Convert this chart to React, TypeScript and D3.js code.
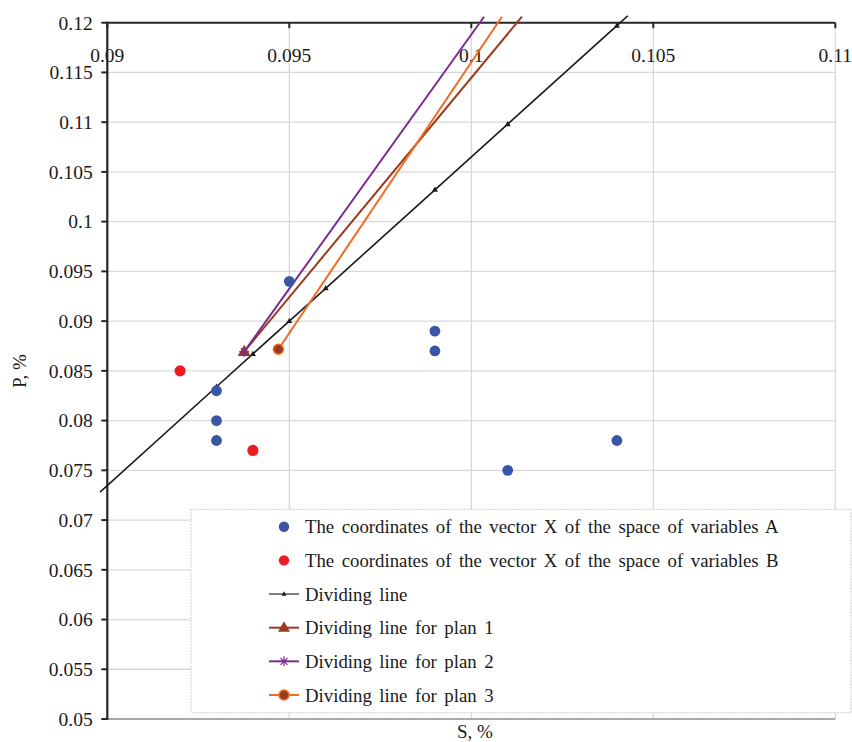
import React from "react";
import * as d3 from "d3";

const xTicks = [0.09, 0.095, 0.1, 0.105, 0.11];
const xTickLabels = ["0.09", "0.095", "0.1", "0.105", "0.11"];
const yTicks = [0.05, 0.055, 0.06, 0.065, 0.07, 0.075, 0.08, 0.085, 0.09, 0.095, 0.1, 0.105, 0.11, 0.115, 0.12];
const yTickLabels = ["0.05", "0.055", "0.06", "0.065", "0.07", "0.075", "0.08", "0.085", "0.09", "0.095", "0.1", "0.105", "0.11", "0.115", "0.12"];

const seriesA_S = [0.093, 0.093, 0.093, 0.095, 0.099, 0.099, 0.101, 0.104];
const seriesA_P = [0.083, 0.08, 0.078, 0.094, 0.089, 0.087, 0.075, 0.078];

const seriesB_S = [0.092, 0.094];
const seriesB_P = [0.085, 0.077];

const dividingS = [0.0898, 0.093, 0.094, 0.095, 0.096, 0.099, 0.101, 0.104, 0.1043];
const dividingP = [0.0728, 0.0834, 0.0867, 0.09, 0.0933, 0.1032, 0.1098, 0.1197, 0.1207];
const dividingMarked = [false, true, true, true, true, true, true, true, false];

const plan1S = [0.09376, 0.10139];
const plan1P = [0.08693, 0.1206];
const plan2S = [0.09376, 0.10035];
const plan2P = [0.08693, 0.1206];
const plan3S = [0.0947, 0.10084];
const plan3P = [0.08717, 0.1206];

const legendLabels = [
  "The coordinates of the vector X of the space of variables A",
  "The coordinates of the vector X of the space of variables B",
  "Dividing line",
  "Dividing line for plan 1",
  "Dividing line for plan 2",
  "Dividing line for plan 3",
];

const BLUE = "#3a55a6";
const RED = "#ec1c24";
const BLACK = "#1a1a1a";
const BROWN = "#9a3a1c";
const PURPLE = "#7b2d8e";
const ORANGE = "#f26a21";
const FONT = "'Liberation Serif', 'Times New Roman', serif";

const x = d3.scaleLinear().domain([0.09, 0.11]).range([107.3, 835.3]);
const y = d3.scaleLinear().domain([0.05, 0.12]).range([719, 22.7]);

const line = d3
  .line<[number, number]>()
  .x((d) => x(d[0]))
  .y((d) => y(d[1]));

const zip = (a: number[], b: number[]) => a.map((v, i) => [v, b[i]] as [number, number]);

const tri = (cx: number, cy: number, s: number) => {
  const h = s * 0.87;
  return `M${cx},${cy - h * 0.62}L${cx + s / 2},${cy + h * 0.38}L${cx - s / 2},${cy + h * 0.38}Z`;
};

function Asterisk({ cx, cy, r, color }: { cx: number; cy: number; r: number; color: string }) {
  return (
    <g stroke={color} strokeWidth={1.2}>
      <line x1={cx - r} y1={cy} x2={cx + r} y2={cy} />
      <line x1={cx} y1={cy - r} x2={cx} y2={cy + r} />
      <line x1={cx - r * 0.7} y1={cy - r * 0.7} x2={cx + r * 0.7} y2={cy + r * 0.7} />
      <line x1={cx - r * 0.7} y1={cy + r * 0.7} x2={cx + r * 0.7} y2={cy - r * 0.7} />
    </g>
  );
}

export default function App() {
  const divPts = zip(dividingS, dividingP);
  const p1 = zip(plan1S, plan1P);
  const p2 = zip(plan2S, plan2P);
  const p3 = zip(plan3S, plan3P);

  const legX = 191;
  const legY = 509.3;
  const legW = 660;
  const legH = 203.4;
  const rowY = (i: number) => 526.7 + i * 33.66;
  const mx = 284;

  return (
    <svg
      width={852}
      height={742}
      style={{ position: "absolute", left: 0, top: 0, background: "#fff" }}
      fontFamily={FONT}
    >
      <rect x={0} y={0} width={852} height={742} fill="#fff" />
      {/* gridlines */}
      {yTicks.slice(1, -1).map((t) => (
        <line key={"gy" + t} x1={x(0.09)} x2={x(0.11)} y1={y(t)} y2={y(t)} stroke="#d9d9d9" strokeWidth={1.3} />
      ))}
      {xTicks.slice(1).map((t) => (
        <line key={"gx" + t} x1={x(t)} x2={x(t)} y1={y(0.12)} y2={y(0.05)} stroke="#d9d9d9" strokeWidth={1.3} />
      ))}
      {/* bottom line */}
      <line x1={x(0.09)} x2={x(0.11)} y1={y(0.05)} y2={y(0.05)} stroke="#8c8c8c" strokeWidth={1.4} />

      {/* top axis */}
      <line x1={x(0.09)} x2={x(0.11)} y1={y(0.12)} y2={y(0.12)} stroke="#262626" strokeWidth={2} />
      {xTicks.map((t) => (
        <line key={"tx" + t} x1={x(t)} x2={x(t)} y1={y(0.12)} y2={y(0.12) + 5.5} stroke="#262626" strokeWidth={2} />
      ))}
      {xTicks.map((t, i) => (
        <text key={"lx" + t} x={x(t)} y={61.5} textAnchor="middle" fontSize={19.5} fill="#1a1a1a">
          {xTickLabels[i]}
        </text>
      ))}
      {/* left axis */}
      <line x1={x(0.09)} x2={x(0.09)} y1={y(0.12) - 1} y2={y(0.05) + 1} stroke="#262626" strokeWidth={2.2} />
      {yTicks.map((t) => (
        <line key={"ty" + t} x1={x(0.09) - 6} x2={x(0.09)} y1={y(t)} y2={y(t)} stroke="#262626" strokeWidth={2} />
      ))}
      {yTicks.map((t, i) => (
        <text key={"ly" + t} x={92.7} y={y(t) + 6.8} textAnchor="end" fontSize={19.5} fill="#1a1a1a">
          {yTickLabels[i]}
        </text>
      ))}

      {/* axis titles */}
      <text x={475} y={737.5} textAnchor="middle" fontSize={19} fill="#1a1a1a">
        S, %
      </text>
      <text transform="translate(25.5,371) rotate(-90)" textAnchor="middle" fontSize={19} fill="#1a1a1a">
        P, %
      </text>

      {/* dividing line */}
      <path d={line(divPts) || ""} fill="none" stroke={BLACK} strokeWidth={1.6} />
      {divPts.map((d, i) =>
        dividingMarked[i] ? <path key={"dm" + i} d={tri(x(d[0]), y(d[1]), 6)} fill={BLACK} /> : null
      )}

      {/* plan lines */}
      <path d={line(p1) || ""} fill="none" stroke={BROWN} strokeWidth={2} />
      <path d={line(p2) || ""} fill="none" stroke={PURPLE} strokeWidth={2} />
      <path d={line(p3) || ""} fill="none" stroke={ORANGE} strokeWidth={2} />
      <path d={tri(x(p1[0][0]), y(p1[0][1]), 13)} fill={BROWN} />
      <Asterisk cx={x(p2[0][0])} cy={y(p2[0][1])} r={5} color={PURPLE} />
      <circle cx={x(p3[0][0])} cy={y(p3[0][1])} r={5} fill={BROWN} stroke={ORANGE} strokeWidth={1.5} />

      {/* scatter points */}
      {seriesA_S.map((s, i) => (
        <circle key={"a" + i} cx={x(s)} cy={y(seriesA_P[i])} r={5.4} fill={BLUE} />
      ))}
      {seriesB_S.map((s, i) => (
        <circle key={"b" + i} cx={x(s)} cy={y(seriesB_P[i])} r={5.6} fill={RED} />
      ))}

      {/* legend */}
      <rect x={legX} y={legY} width={legW} height={legH} fill="#fff" stroke="#cfcfcf" strokeWidth={1} strokeDasharray="2,1" />
      <circle cx={mx} cy={rowY(0)} r={5.2} fill={BLUE} />
      <circle cx={mx} cy={rowY(1)} r={5.2} fill={RED} />
      <line x1={269} x2={299} y1={rowY(2)} y2={rowY(2)} stroke="#555" strokeWidth={1.5} />
      <path d={tri(mx, rowY(2), 5)} fill={BLACK} />
      <line x1={269} x2={299} y1={rowY(3)} y2={rowY(3)} stroke={BROWN} strokeWidth={2} />
      <path d={tri(mx, rowY(3), 12)} fill={BROWN} />
      <line x1={269} x2={299} y1={rowY(4)} y2={rowY(4)} stroke={PURPLE} strokeWidth={2} />
      <Asterisk cx={mx} cy={rowY(4)} r={5} color={PURPLE} />
      <line x1={269} x2={299} y1={rowY(5)} y2={rowY(5)} stroke={ORANGE} strokeWidth={2} />
      <circle cx={mx} cy={rowY(5)} r={5} fill={BROWN} stroke={ORANGE} strokeWidth={1.5} />
      {legendLabels.map((l, i) => (
        <text key={"lg" + i} x={305} y={rowY(i) + 6.5} fontSize={18.8} wordSpacing={2.8} fill="#1a1a1a">
          {l}
        </text>
      ))}
    </svg>
  );
}
